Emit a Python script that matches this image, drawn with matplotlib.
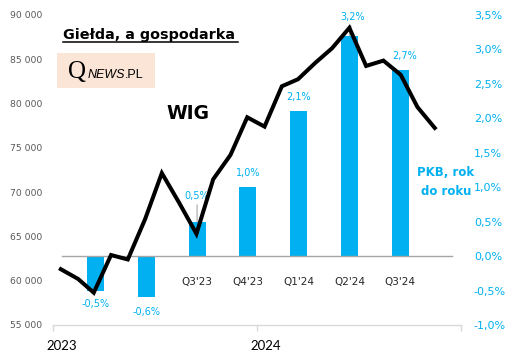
import numpy as np
import matplotlib
matplotlib.use("Agg")
import matplotlib.pyplot as plt
import matplotlib.dates as mdates
from matplotlib.ticker import FuncFormatter

# ---------------- data ----------------
wig_dates = ["2023-01-15", "2023-02-15", "2023-03-15", "2023-04-15", "2023-05-15",
             "2023-06-15", "2023-07-15", "2023-08-15", "2023-09-15", "2023-10-15",
             "2023-11-15", "2023-12-15", "2024-01-15", "2024-02-15", "2024-03-15",
             "2024-04-15", "2024-05-15", "2024-06-15", "2024-07-15", "2024-08-15",
             "2024-09-15", "2024-10-15", "2024-11-15"]
wig_values = [61300, 60200, 58650, 62900, 62400, 66950, 72150, 68800, 65300, 71450,
              74200, 78450, 77400, 81950, 82750, 84600, 86250, 88550, 84250, 84850,
              83250, 79600, 77250]

quarters = ["Q1'23", "Q2'23", "Q3'23", "Q4'23", "Q1'24", "Q2'24", "Q3'24"]
gdp_yoy = [-0.5, -0.6, 0.5, 1.0, 2.1, 3.2, 2.7]

year_ticks = ["2023-01-01", "2024-01-01", "2025-01-01"]
year_labels = ["2023", "2024", ""]

BLUE = "#00B0F0"
plt.rcParams['font.family'] = ['DejaVu Sans']

W, H = 516, 362
fig = plt.figure(figsize=(W / 100, H / 100), dpi=100)


def fx(px):
    return px / W


def fy(py):
    return 1 - py / H


# ---------------- bars (GDP) ----------------
ax_bar = fig.add_axes([fx(62), fy(325), (452 - 62) / W, (325 - 15) / H])
x = np.arange(len(quarters))
ax_bar.bar(x, gdp_yoy, width=0.335, color=BLUE, zorder=2)
ax_bar.set_xlim(-0.66, 7.02)
ax_bar.set_ylim(-1.0, 3.5)
for s in ['top', 'left', 'right']:
    ax_bar.spines[s].set_visible(False)
ax_bar.spines['bottom'].set_position(('data', 0))
ax_bar.spines['bottom'].set_color('#A6A6A6')
ax_bar.spines['bottom'].set_linewidth(1.0)
ax_bar.set_xticks(x)
ax_bar.set_xticklabels([q if v > 0 else "" for q, v in zip(quarters, gdp_yoy)],
                       fontsize=7.5, color='#262626')
ax_bar.tick_params(axis='x', length=0, pad=15)
ax_bar.yaxis.tick_right()
ax_bar.set_yticks(np.arange(-1.0, 3.51, 0.5))
ax_bar.yaxis.set_major_formatter(FuncFormatter(lambda v, p: f"{v:.1f}%".replace('.', ',')))
ax_bar.tick_params(axis='y', length=0, pad=15.8, labelsize=8, labelcolor=BLUE)
ax_bar.patch.set_visible(False)

special = {2: (0, 26), 5: (3, 19), 6: (4, 14)}
for i, v in enumerate(gdp_yoy):
    lab = f"{v:.1f}%".replace('.', ',')
    dx, dy = special.get(i, (0, 14 if v > 0 else -14))
    if v < 0:
        dy = -13 if i == 0 else -15
    kw = {}
    if i in (2, 5):
        kw['arrowprops'] = dict(arrowstyle='-', color='#A6A6A6', lw=0.8, shrinkA=1, shrinkB=0)
    ax_bar.annotate(lab, xy=(i, v), xytext=(dx, dy), textcoords='offset pixels',
                    ha='center', va='center', fontsize=7, color=BLUE, **kw)

# ---------------- line (WIG) ----------------
ax = fig.add_axes([fx(53), fy(325), (461 - 53) / W, (325 - 15) / H])
ax.patch.set_visible(False)
dates = np.array(wig_dates, dtype='datetime64[D]')
ax.plot(dates, wig_values, color='black', lw=2.9, solid_joinstyle='miter', zorder=3)
ax.set_xlim(mdates.date2num(np.datetime64(year_ticks[0])),
            mdates.date2num(np.datetime64(year_ticks[-1])))
ax.set_ylim(55000, 90000)
ax.set_yticks(np.arange(55000, 90001, 5000))
ax.yaxis.set_major_formatter(FuncFormatter(lambda v, p: f"{int(v):,}".replace(',', ' ')))
ax.tick_params(axis='y', length=0, pad=8, labelsize=6.7, labelcolor='#595959')
for s in ['top', 'left', 'right']:
    ax.spines[s].set_visible(False)
ax.spines['bottom'].set_color('#D9D9D9')
ax.spines['bottom'].set_linewidth(1.0)
major = [mdates.date2num(np.datetime64(d)) for d in year_ticks]
ax.set_xticks(major)
ax.set_xticklabels([""] * len(major))
ax.tick_params(axis='x', which='major', length=4, width=1, color='#D9D9D9', direction='out')
minor = [m + 16 for m, l in zip(major, year_labels) if l]
ax.set_xticks(minor, minor=True)
ax.set_xticklabels([l for l in year_labels if l], minor=True)
ax.tick_params(axis='x', which='minor', length=0, pad=11, labelsize=9.5, labelcolor='black')
for t in ax.get_xticklabels(minor=True):
    t.set_family('Lato')

# ---------------- annotations ----------------
fig.text(fx(63), fy(39.3), "Giełda, a gospodarka", fontsize=10.4, fontweight='bold',
         ha='left', va='baseline', color='black')
fig.add_artist(plt.Line2D([fx(63), fx(238)], [fy(41.5), fy(41.5)], color='black', lw=1.1))

fig.add_artist(plt.Rectangle((fx(57), fy(88)), (155 - 57) / W, (88 - 53) / H,
                             facecolor='#FBE5D6', edgecolor='none'))
fig.text(fx(68), fy(78), "Q", fontsize=18, family='Liberation Serif',
         ha='left', va='baseline', color='black')
fig.text(fx(88), fy(77.5), "NEWS", fontsize=9, family='Liberation Sans', style='italic',
         ha='left', va='baseline', color='black')
fig.text(fx(125), fy(77.5), ".PL", fontsize=9, family='Liberation Sans',
         ha='left', va='baseline', color='black')

fig.text(fx(166), fy(119.3), "WIG", fontsize=13.5, fontweight='bold',
         ha='left', va='baseline', color='black')
fig.text(fx(446), fy(176), "PKB, rok", fontsize=8.5, fontweight='bold',
         ha='center', va='baseline', color=BLUE)
fig.text(fx(446), fy(195), "do roku", fontsize=8.5, fontweight='bold',
         ha='center', va='baseline', color=BLUE)

fig.savefig("out.png", dpi=100)
